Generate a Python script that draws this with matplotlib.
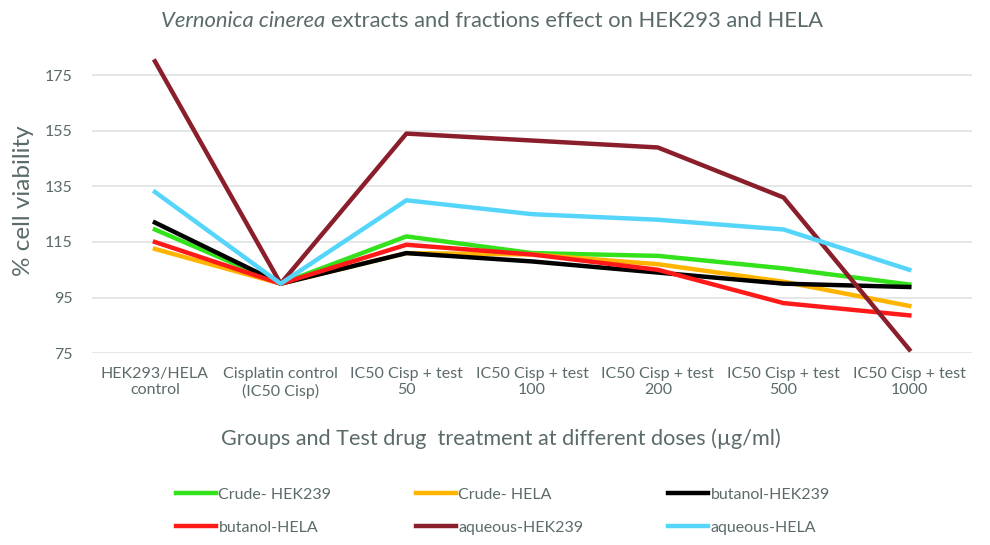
import numpy as np
import matplotlib.pyplot as plt

plt.rcParams['font.family'] = ['Lato', 'DejaVu Sans']

groups = ['HEK293/HELA\ncontrol', 'Cisplatin control\n(IC50 Cisp)', 'IC50 Cisp + test\n50',
          'IC50 Cisp + test\n100', 'IC50 Cisp + test\n200', 'IC50 Cisp + test\n500',
          'IC50 Cisp + test\n1000']

crude_hek = [119.5, 100, 117, 111, 110, 105.5, 99.7]
crude_hela = [112.5, 100, 111, 110.5, 107, 100.7, 92]
butanol_hek = [122, 100, 111, 108, 104, 100, 98.8]
butanol_hela = [115, 100, 114, 110.5, 105, 93, 88.6]
aqueous_hek = [180, 100, 154, 151.5, 149, 131, 76.3]
aqueous_hela = [133, 100, 130, 125, 123, 119.5, 105]

series = [('Crude- HEK239', crude_hek, '#33e21a'),
          ('Crude- HELA', crude_hela, '#ffb400'),
          ('butanol-HEK239', butanol_hek, '#000000'),
          ('butanol-HELA', butanol_hela, '#ff1a1a'),
          ('aqueous-HEK239', aqueous_hek, '#8b1e2b'),
          ('aqueous-HELA', aqueous_hela, '#55d5fa')]

txt = '#5b6a6a'

fig = plt.figure(figsize=(9.9, 5.45), dpi=100)
ax = fig.add_axes([0.093, 0.352, 0.889, 0.561])

x = np.arange(len(groups))
handles = []
for name, vals, col in series:
    h, = ax.plot(x, vals, color=col, lw=3.2, label=name)
    handles.append(h)

ax.set_xlim(-0.5, len(groups) - 0.5)
ax.set_ylim(75, 185)
ax.set_yticks(range(75, 176, 20))
ax.yaxis.grid(True, color='#dfe3e3', lw=1.2)
ax.set_axisbelow(True)
for s in ax.spines.values():
    s.set_visible(False)
ax.tick_params(length=0, colors=txt, labelsize=11.5)
ax.tick_params(axis='y', pad=14)
ax.tick_params(axis='x', pad=10)
ax.set_xticks(x)
ax.set_xticklabels(groups)

ax.set_ylabel('% cell viability', color=txt, fontsize=17.5, labelpad=8)
ax.set_xlabel('Groups and Test drug  treatment at different doses (µg/ml)', color=txt,
              fontsize=15.6, labelpad=20)
ax.xaxis.set_label_coords(0.465, -0.245)

# title: italic species name followed by plain text
fig.text(0.329, 0.962, 'Vernonica cinerea', color=txt, fontsize=15.8, ha='right',
         va='center', style='italic')
fig.text(0.334, 0.962, 'extracts and fractions effect on HEK293 and HELA', color=txt,
         fontsize=15.8, ha='left', va='center')

order = [0, 3, 1, 4, 2, 5]
leg = fig.legend([handles[i] for i in order], [series[i][0] for i in order],
                 loc='center', bbox_to_anchor=(0.508, 0.062), ncol=3, frameon=False,
                 fontsize=11.5, handlelength=2.5, handletextpad=0.15,
                 columnspacing=5.3, labelspacing=1.15, labelcolor=txt)

fig.savefig('out.png', dpi=100)
